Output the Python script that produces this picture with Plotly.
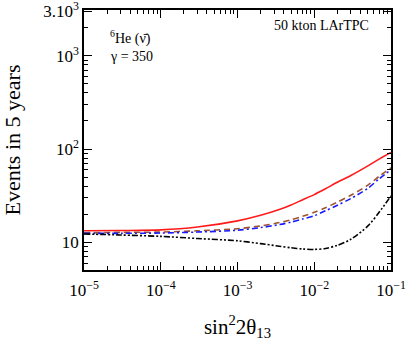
import plotly.graph_objects as go

# ---- data ----
x_vals = [1e-5, 3e-5, 1e-4, 3e-4, 1e-3, 2e-3, 3.5e-3, 5e-3, 7e-3, 1e-2,
          1.4e-2, 2e-2, 3e-2, 5e-2, 7e-2, 1e-1]
red_solid = [13.3, 13.4, 13.6, 14.6, 17.0, 19.5, 22.5, 25.2, 28.5, 32.5,
             37.5, 44.0, 52.0, 66.0, 78.0, 92.0]
brown_dash = [12.7, 12.8, 12.9, 13.3, 14.0, 15.0, 16.3, 17.5, 19.0, 21.0,
              23.5, 27.0, 32.0, 41.0, 51.0, 63.0]
blue_dashdot = [12.5, 12.5, 12.6, 12.9, 13.5, 14.4, 15.5, 16.5, 17.8, 19.3,
                21.8, 25.0, 29.5, 38.0, 48.0, 60.0]
black_dashdotdot = [12.3, 12.0, 11.6, 11.0, 10.4, 9.7, 9.1, 8.75, 8.5, 8.4,
                    8.6, 9.3, 10.8, 15.0, 21.0, 31.5]

x_major = [1e-5, 1e-4, 1e-3, 1e-2, 1e-1]
x_major_text = ["10<sup>−5</sup>", "10<sup>−4</sup>", "10<sup>−3</sup>",
                "10<sup>−2</sup>", "10<sup>−1</sup>"]
y_major = [10, 100, 1000, 3000]
y_major_text = ["10", "10<sup>2</sup>", "10<sup>3</sup>", "3.10<sup>3</sup>"]

x_minor = [m * 10 ** e for e in range(-5, -1) for m in range(2, 10)]
y_minor = [m * 10 ** e for e in range(0, 4) for m in range(2, 10)]
y_minor = [v for v in y_minor if 5 <= v <= 3000 and v not in y_major]

FONT = "Liberation Serif"

fig = go.Figure()
series = [
    (red_solid, "#ff1a1a", "solid"),
    (brown_dash, "#a0522d", "6px,4px"),
    (blue_dashdot, "#1a1aff", "6px,3px,2px,3px"),
    (black_dashdotdot, "#000000", "6px,2px,2px,2px,2px,2px"),
]
for ys, col, dash in series:
    fig.add_trace(go.Scatter(x=x_vals, y=ys, mode="lines",
                             line=dict(color=col, width=1.6, dash=dash,
                                       shape="spline", smoothing=0.8),
                             showlegend=False))

axis_common = dict(type="log", showgrid=False, zeroline=False,
                   showline=True, linecolor="black", linewidth=1.5,
                   mirror="ticks", ticks="inside", ticklen=8, tickwidth=1,
                   tickcolor="black", automargin=False,
                   ticklabeloverflow="allow",
                   tickfont=dict(family=FONT, size=17, color="black"))

fig.update_xaxes(**axis_common,
                 range=[-5, -1],
                 tickvals=x_major, ticktext=x_major_text,
                 ticklabelstandoff=4,
                 minor=dict(tickvals=x_minor, ticks="inside", ticklen=4,
                            tickcolor="black", tickwidth=1),
                 title=dict(text="sin<sup>2</sup>2θ<sub>13</sub>",
                            font=dict(family=FONT, size=21, color="black"),
                            standoff=20))
fig.update_yaxes(**axis_common,
                 range=[0.704, 3.49],
                 tickvals=y_major, ticktext=y_major_text,
                 minor=dict(tickvals=y_minor, ticks="inside", ticklen=4,
                            tickcolor="black", tickwidth=1),
                 title=dict(text="Events in 5 years",
                            font=dict(family=FONT, size=22, color="black"),
                            standoff=32))

fig.add_annotation(x=0.078, y=0.895, xref="paper", yref="paper",
                   text="<sup>6</sup>He (ν̄)", showarrow=False,
                   xanchor="left", yanchor="middle",
                   font=dict(family=FONT, size=14, color="black"))
fig.add_annotation(x=0.078, y=0.82, xref="paper", yref="paper",
                   text="γ = 350", showarrow=False,
                   xanchor="left", yanchor="middle",
                   font=dict(family=FONT, size=14, color="black"))
fig.add_annotation(x=0.935, y=0.94, xref="paper", yref="paper",
                   text="50 kton LArTPC", showarrow=False,
                   xanchor="right", yanchor="middle",
                   font=dict(family=FONT, size=14, color="black"))

fig.update_layout(width=407, height=341,
                  margin=dict(l=84, r=16, t=10, b=71),
                  paper_bgcolor="white", plot_bgcolor="white")

fig.write_html("out.html",
               config={"displayModeBar": False},
               post_script="document.body.style.margin='0';"
                           "document.body.style.overflow='hidden';")
